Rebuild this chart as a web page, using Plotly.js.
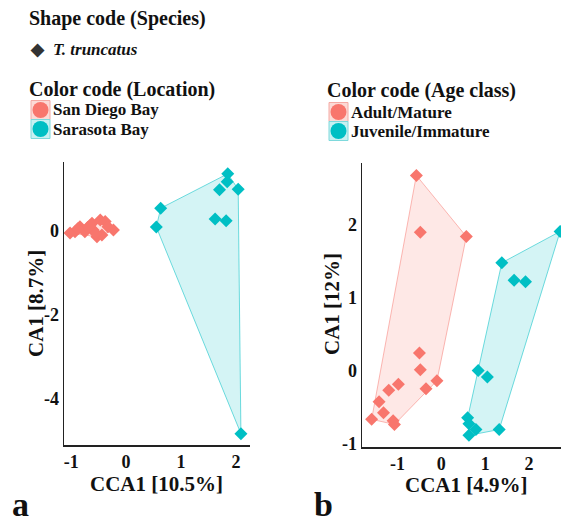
<!DOCTYPE html>
<html>
<head>
<meta charset="utf-8">
<script src="https://cdn.plot.ly/plotly-3.0.1.min.js"></script>
<style>html,body{margin:0;padding:0;background:#fff;}#chart{width:561px;height:524px;}</style>
</head>
<body>
<div id="chart"></div>
<script>
// Panel a: Location
var locSanDiegoX = [-1.02,-0.93,-0.84,-0.75,-0.62,-0.60,-0.53,-0.47,-0.44,-0.38,-0.33,-0.23,-0.70,-0.55,-0.88,-0.66];
var locSanDiegoY = [-0.05,-0.02,0.10,-0.02,0.18,0.02,-0.14,0.26,-0.10,0.22,0.10,0.02,0.08,-0.06,0.05,0.12];
var locSarasotaX = [1.85,1.84,1.70,2.04,0.63,0.55,1.62,1.82,2.09];
var locSarasotaY = [1.36,1.17,0.98,0.99,0.54,0.09,0.28,0.24,-4.83];
// Panel b: Age class
var ageAdultX = [-0.57,-0.48,0.57,-0.50,-0.48,-0.10,-0.35,-0.98,-1.20,-1.42,-1.32,-1.59,-1.10,-1.07];
var ageAdultY = [2.68,1.90,1.84,0.24,0.01,-0.14,-0.25,-0.19,-0.27,-0.43,-0.58,-0.67,-0.69,-0.74];
var ageJuvX = [2.71,1.38,1.66,1.92,0.84,1.05,0.60,0.63,0.79,1.32,0.63];
var ageJuvY = [1.91,1.48,1.24,1.22,0.00,-0.09,-0.65,-0.73,-0.81,-0.81,-0.89];

var xTicksA = [-1,0,1,2], xTickTextA = ['-1','0','1','2'];
var yTicksA = [-4,-2,0], yTickTextA = ['-4','-2','0'];
var xTicksB = [-1,0,1,2], xTickTextB = ['-1','0','1','2'];
var yTicksB = [-1,0,1,2], yTickTextB = ['-1','0','1','2'];

var RED = '#F8766D', TEAL = '#00BFC4';
var FONT = 'Liberation Serif';
var W = 561, H = 524;
function px(x){return x/W;}
function py(y){return 1 - y/H;}

function hull(xs, ys){
  var p = xs.map(function(x,i){return [x, ys[i]];});
  p.sort(function(a,b){return a[0]-b[0] || a[1]-b[1];});
  function cross(o,a,b){return (a[0]-o[0])*(b[1]-o[1])-(a[1]-o[1])*(b[0]-o[0]);}
  var lower=[], upper=[];
  for (var i=0;i<p.length;i++){while(lower.length>=2&&cross(lower[lower.length-2],lower[lower.length-1],p[i])<=0)lower.pop();lower.push(p[i]);}
  for (var j=p.length-1;j>=0;j--){while(upper.length>=2&&cross(upper[upper.length-2],upper[upper.length-1],p[j])<=0)upper.pop();upper.push(p[j]);}
  upper.pop(); lower.pop();
  var h = lower.concat(upper); h.push(h[0]);
  return {x: h.map(function(q){return q[0];}), y: h.map(function(q){return q[1];})};
}

function hullTrace(xs, ys, color, fill, xa, ya){
  var h = hull(xs, ys);
  return {x:h.x, y:h.y, xaxis:xa, yaxis:ya, mode:'lines', fill:'toself', fillcolor:fill,
    line:{color:color, width:1}, hoverinfo:'skip', showlegend:false};
}
function pts(xs, ys, color, xa, ya){
  return {x:xs, y:ys, xaxis:xa, yaxis:ya, mode:'markers', type:'scatter', showlegend:false,
    marker:{symbol:'diamond', size:10, color:color, line:{width:0}}};
}

var data = [
  hullTrace(locSanDiegoX, locSanDiegoY, 'rgba(248,118,109,0.5)', 'rgba(248,118,109,0.2)', 'x', 'y'),
  hullTrace(locSarasotaX, locSarasotaY, 'rgba(0,191,196,0.55)', 'rgba(0,191,196,0.17)', 'x', 'y'),
  pts(locSanDiegoX, locSanDiegoY, RED, 'x', 'y'),
  pts(locSarasotaX, locSarasotaY, TEAL, 'x', 'y'),
  hullTrace(ageAdultX, ageAdultY, 'rgba(248,118,109,0.5)', 'rgba(248,118,109,0.17)', 'x2', 'y2'),
  hullTrace(ageJuvX, ageJuvY, 'rgba(0,191,196,0.55)', 'rgba(0,191,196,0.17)', 'x2', 'y2'),
  pts(ageAdultX, ageAdultY, RED, 'x2', 'y2'),
  pts(ageJuvX, ageJuvY, TEAL, 'x2', 'y2')
];

var axBase = {showgrid:false, zeroline:false, showline:true, linecolor:'#222', linewidth:1.5,
  ticks:'', tickfont:{family:FONT, size:18, color:'#111', weight:'bold'}, fixedrange:true};
function ax(extra){var o={}; for (var k in axBase)o[k]=axBase[k]; for (var k2 in extra)o[k2]=extra[k2]; return o;}

var annotations = [];
function txt(x, y, text, size, opts){
  opts = opts || {};
  annotations.push({xref:'paper', yref:'paper', x:px(x), y:py(y), text:text, showarrow:false,
    xanchor:opts.xanchor||'left', yanchor:opts.yanchor||'middle', textangle:opts.angle||0,
    font:{family:FONT, size:size, color:opts.color||'#111', weight:'bold', style:opts.style||'normal'}});
}
var shapes = [];
function legendKey(x, y, color, boxFill, boxLine){
  shapes.push({type:'rect', xref:'paper', yref:'paper', x0:px(x), x1:px(x+19), y0:py(y+9.5), y1:py(y-9.5),
    fillcolor:boxFill, line:{color:boxLine, width:1}});
  shapes.push({type:'circle', xref:'paper', yref:'paper', x0:px(x+1.5), x1:px(x+17.5), y0:py(y+8), y1:py(y-8),
    fillcolor:color, line:{width:0}});
}

// Panel a legends
txt(27, 18, 'Shape code (Species)', 20);
txt(28, 49, '◆', 17, {color:'#333'});
txt(51, 49, 'T. truncatus', 17, {style:'italic'});
txt(27, 89, 'Color code (Location)', 20);
legendKey(31, 110, RED, '#FCDAD6', '#F4AAA4');
txt(51, 110, 'San Diego Bay', 17);
legendKey(31, 129, TEAL, '#C8F1F2', '#7ED9DC');
txt(51, 129, 'Sarasota Bay', 17);
// Panel b legends
txt(325, 90, 'Color code (Age class)', 20);
legendKey(329, 112, RED, '#FCDAD6', '#F4AAA4');
txt(349, 112, 'Adult/Mature', 17);
legendKey(329, 131, TEAL, '#C8F1F2', '#7ED9DC');
txt(349, 131, 'Juvenile/Immature', 17);
// Axis titles
txt(36, 304, 'CA1 [8.7%]', 21, {xanchor:'center', angle:-90});
txt(156, 484, 'CCA1 [10.5%]', 21, {xanchor:'center'});
txt(332, 304, 'CA1 [12%]', 21, {xanchor:'center', angle:-90});
txt(466, 485, 'CCA1 [4.9%]', 21, {xanchor:'center'});
// Panel letters
txt(10, 525, 'a', 34, {yanchor:'bottom'});
txt(312, 525, 'b', 34, {yanchor:'bottom'});

var layout = {
  width: W, height: H, margin:{l:0, r:0, t:0, b:0}, paper_bgcolor:'#fff', plot_bgcolor:'#fff',
  showlegend:false,
  xaxis: ax({domain:[px(64), px(250)], range:[-1.13, 2.255], tickvals:xTicksA, ticktext:xTickTextA, anchor:'y'}),
  yaxis: ax({domain:[py(445), py(162)], range:[-5.10, 1.64], tickvals:yTicksA, ticktext:yTickTextA, anchor:'x'}),
  xaxis2: ax({domain:[px(362), 1], range:[-1.81, 2.73], tickvals:xTicksB, ticktext:xTickTextB, anchor:'y2'}),
  yaxis2: ax({domain:[py(447), py(163)], range:[-1.05, 2.85], tickvals:yTicksB, ticktext:yTickTextB, anchor:'x2'}),
  annotations: annotations, shapes: shapes
};
Plotly.newPlot('chart', data, layout, {displayModeBar:false, staticPlot:true});
</script>
</body>
</html>
